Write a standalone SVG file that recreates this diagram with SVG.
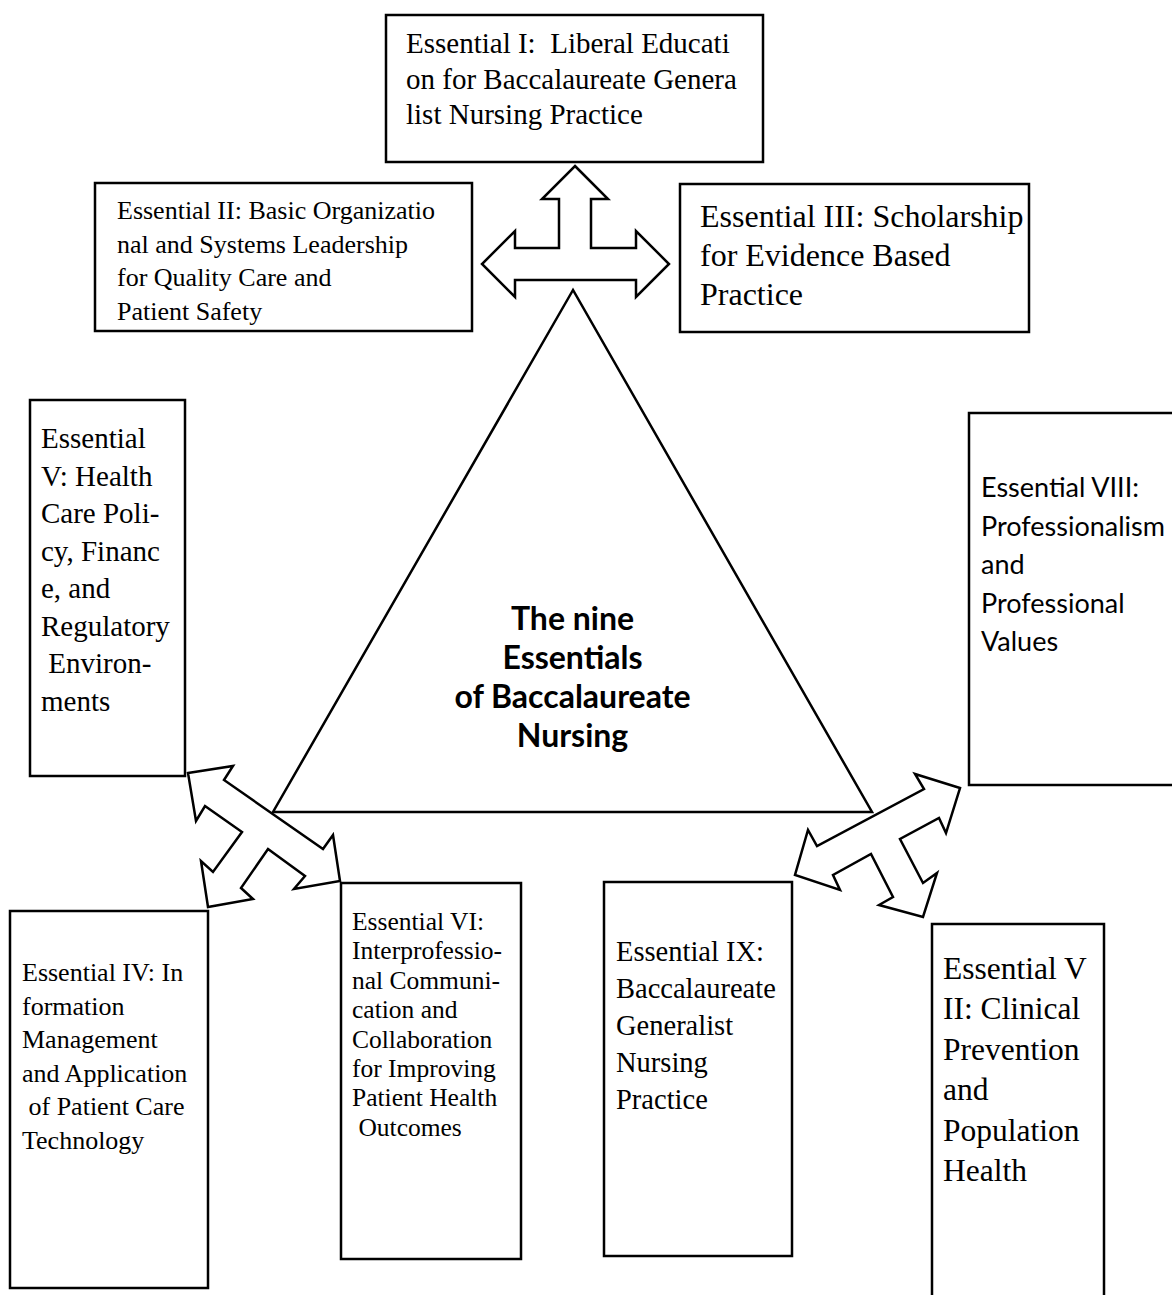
<svg xmlns="http://www.w3.org/2000/svg" width="1172" height="1295" viewBox="0 0 1172 1295">
<style>
.box{fill:#fff;stroke:#000;stroke-width:2.5}
.tri{fill:#fff;stroke:#000;stroke-width:2.5;stroke-linejoin:miter}
.arr{fill:#fff;stroke:#000;stroke-width:2.5;stroke-linejoin:miter}
.t{font-family:"Liberation Serif","Times New Roman",serif;fill:#000}
.c{font-family:Lato,"Noto Sans",sans-serif;fill:#000}
.b{font-family:Lato,"Noto Sans",sans-serif;font-weight:bold;fill:#000}
</style>
<rect width="1172" height="1295" fill="#fff"/>
<g id="center">
<polygon class="tri" points="573,290 273,812 872,812"/>
<g class="b" font-size="32" text-anchor="middle">
<text x="572.5" y="630">The nine</text>
<text x="572.5" y="669">Essentials</text>
<text x="572.5" y="708">of Baccalaureate</text>
<text x="572.5" y="747">Nursing</text>
</g>
</g>
<g id="connectors">
<polygon class="arr" points="575,166 608,199 591,199 591,248 636,248 636,231 669,264 636,297 636,280 515,280 515,297 482,264 515,231 515,248 559,248 559,199 542,199"/>
<polygon class="arr" points="188,773 233,766 224,780 323,849 333,835 340,881 294,889 305,876 268,849 241,888 253,899 208,907 201,861 213,872 242,832 205,806 196,821"/>
<polygon class="arr" points="960,788 915,774 924,789 817,846 808,830 795,875 840,890 833,875 871,854 893,897 879,905 923,917 937,873 923,883 900,839 939,818 946,833"/>
</g>
<g id="essential-1">
<rect class="box" x="386" y="15" width="377" height="147"/>
<g class="t" font-size="29">
<text x="406" y="53" xml:space="preserve">Essential I:  Liberal Educati</text>
<text x="406" y="88.5">on for Baccalaureate Genera</text>
<text x="406" y="124">list Nursing Practice</text>
</g>
</g>
<g id="essential-2">
<rect class="box" x="95" y="183" width="377" height="148"/>
<g class="t" font-size="26">
<text x="117" y="219">Essential II: Basic Organizatio</text>
<text x="117" y="252.5">nal and Systems Leadership</text>
<text x="117" y="286">for Quality Care and</text>
<text x="117" y="319.5">Patient Safety</text>
</g>
</g>
<g id="essential-3">
<rect class="box" x="680" y="184" width="349" height="148"/>
<g class="t" font-size="32">
<text x="700" y="227">Essential III: Scholarship</text>
<text x="700" y="266">for Evidence Based</text>
<text x="700" y="305">Practice</text>
</g>
</g>
<g id="essential-5">
<rect class="box" x="30" y="400" width="155" height="376"/>
<g class="t" font-size="29">
<text x="41" y="448">Essential</text>
<text x="41" y="485.5">V: Health</text>
<text x="41" y="523">Care Poli-</text>
<text x="41" y="560.5">cy, Financ</text>
<text x="41" y="598">e, and</text>
<text x="41" y="635.5">Regulatory</text>
<text x="41" y="673" xml:space="preserve"> Environ-</text>
<text x="41" y="710.5">ments</text>
</g>
</g>
<g id="essential-8">
<rect class="box" x="969" y="413" width="220" height="372"/>
<g class="c" font-size="27">
<text x="981" y="497">Essential VIII:</text>
<text x="981" y="536">Professionalism</text>
<text x="981" y="574">and</text>
<text x="981" y="613">Professional</text>
<text x="981" y="651">Values</text>
</g>
</g>
<g id="essential-4">
<rect class="box" x="10" y="911" width="198" height="377"/>
<g class="t" font-size="26">
<text x="22" y="981">Essential IV: In</text>
<text x="22" y="1014.5">formation</text>
<text x="22" y="1048">Management</text>
<text x="22" y="1081.5">and Application</text>
<text x="22" y="1115" xml:space="preserve"> of Patient Care</text>
<text x="22" y="1148.5">Technology</text>
</g>
</g>
<g id="essential-6">
<rect class="box" x="341" y="883" width="180" height="376"/>
<g class="t" font-size="25.5">
<text x="352" y="930">Essential VI:</text>
<text x="352" y="959.4">Interprofessio-</text>
<text x="352" y="988.8">nal Communi-</text>
<text x="352" y="1018.2">cation and</text>
<text x="352" y="1047.6">Collaboration</text>
<text x="352" y="1077">for Improving</text>
<text x="352" y="1106.4">Patient Health</text>
<text x="352" y="1135.8" xml:space="preserve"> Outcomes</text>
</g>
</g>
<g id="essential-9">
<rect class="box" x="604" y="882" width="188" height="374"/>
<g class="t" font-size="28.5">
<text x="616" y="961">Essential IX:</text>
<text x="616" y="998">Baccalaureate</text>
<text x="616" y="1035">Generalist</text>
<text x="616" y="1072">Nursing</text>
<text x="616" y="1109">Practice</text>
</g>
</g>
<g id="essential-7">
<rect class="box" x="932" y="924" width="172" height="400"/>
<g class="t" font-size="31.5">
<text x="943" y="979">Essential V</text>
<text x="943" y="1019.4">II: Clinical</text>
<text x="943" y="1059.8">Prevention</text>
<text x="943" y="1100.2">and</text>
<text x="943" y="1140.6">Population</text>
<text x="943" y="1181">Health</text>
</g>
</g>
</svg>
